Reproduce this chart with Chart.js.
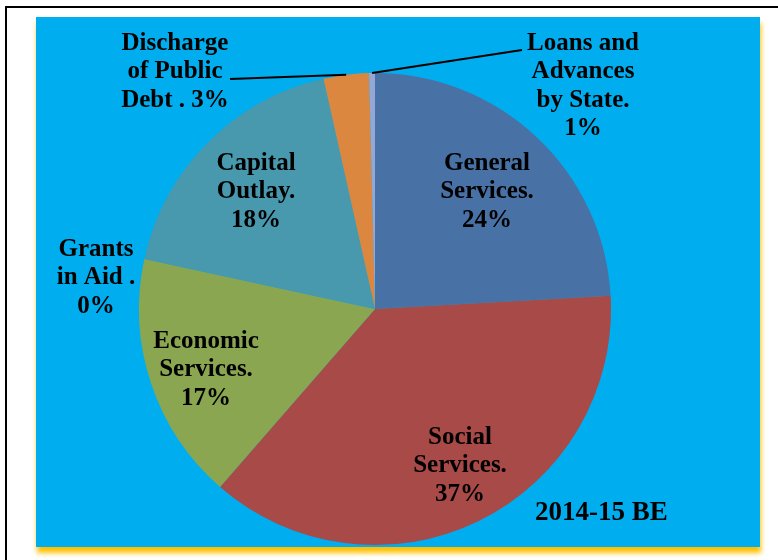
<!DOCTYPE html>
<html>
<head>
<meta charset="utf-8">
<script src="https://cdn.jsdelivr.net/npm/chart.js@4.4.1/dist/chart.umd.min.js"></script>
<style>
  html, body { margin: 0; padding: 0; background: #ffffff; }
  #wrap { position: relative; width: 778px; height: 560px; }
</style>
</head>
<body>
<div id="wrap"><canvas id="c" width="778" height="560"></canvas></div>
<script>
// ---- data ----
const categories = ['General Services.', 'Social Services.', 'Economic Services.', 'Grants in Aid .',
                    'Capital Outlay.', 'Discharge of Public Debt .', 'Loans and Advances by State.'];
const shares = [24.1, 37.3, 17.0, 0.0, 18.1, 3.1, 0.4];
const labelLines = [
  ['General', 'Services.', '24%'],
  ['Social', 'Services.', '37%'],
  ['Economic', 'Services.', '17%'],
  ['Grants', 'in Aid .', '0%'],
  ['Capital', 'Outlay.', '18%'],
  ['Discharge', 'of Public', 'Debt . 3%'],
  ['Loans and', 'Advances', 'by State.', '1%']
];
const chartTitle = '2014-15 BE';

// ---- styling / layout (kept separate from data) ----
const sliceColors = ['#4872A6', '#A84A47', '#8BA651', '#7F6B9E', '#4898AE', '#DC873F', '#94A8D6'];
const labelAnchors = [
  {x: 487, y: 192}, {x: 460, y: 466}, {x: 206, y: 370}, {x: 96, y: 278},
  {x: 256, y: 192}, {x: 175, y: 72}, {x: 583, y: 86}
];
const leaderEnds = {5: {x: 230, y: 79}, 6: {x: 522, y: 50}};
const LINE_H = 28.5;
const LABEL_FONT = 'bold 25px "Liberation Serif", "Times New Roman", serif';
const TITLE_FONT = 'bold 27px "Liberation Serif", "Times New Roman", serif';

const backgroundPlugin = {
  id: 'bg',
  beforeDraw(chart) {
    const ctx = chart.ctx;
    ctx.save();
    ctx.fillStyle = '#ffffff';
    ctx.fillRect(0, 0, chart.width, chart.height);
    // outer frame
    ctx.strokeStyle = '#000000';
    ctx.lineWidth = 2;
    ctx.strokeRect(6, 7, 820, 620);
    // panel with yellow glow
    ctx.shadowColor = 'rgba(255,192,0,1)';
    ctx.shadowBlur = 5;
    ctx.shadowOffsetX = 1;
    ctx.shadowOffsetY = 6;
    ctx.fillStyle = '#00AEEF';
    ctx.fillRect(36, 17, 724, 530);
    ctx.restore();
  }
};

const labelPlugin = {
  id: 'labels',
  afterDatasetsDraw(chart) {
    const ctx = chart.ctx;
    const meta = chart.getDatasetMeta(0);
    ctx.save();
    // leader lines from the slice edge
    Object.keys(leaderEnds).forEach(k => {
      const arc = meta.data[+k];
      const p = arc.getProps(['x', 'y', 'startAngle', 'endAngle', 'outerRadius'], true);
      const mid = (p.startAngle + p.endAngle) / 2;
      const ax = p.x + Math.cos(mid) * p.outerRadius;
      const ay = p.y + Math.sin(mid) * p.outerRadius;
      ctx.strokeStyle = '#000000';
      ctx.lineWidth = 2.2;
      ctx.beginPath();
      ctx.moveTo(ax, ay);
      ctx.lineTo(leaderEnds[k].x, leaderEnds[k].y);
      ctx.stroke();
    });
    ctx.fillStyle = '#000000';
    ctx.font = LABEL_FONT;
    ctx.textAlign = 'center';
    ctx.textBaseline = 'middle';
    labelLines.forEach((lines, i) => {
      const a = labelAnchors[i];
      const n = lines.length;
      lines.forEach((t, j) => {
        ctx.fillText(t, a.x, a.y + (j - (n - 1) / 2) * LINE_H);
      });
    });
    ctx.font = TITLE_FONT;
    ctx.textAlign = 'left';
    ctx.textBaseline = 'alphabetic';
    ctx.fillText(chartTitle, 535, 520);
    ctx.restore();
  }
};

new Chart(document.getElementById('c'), {
  type: 'pie',
  data: {
    labels: categories,
    datasets: [{
      data: shares,
      backgroundColor: sliceColors,
      borderWidth: 0,
      hoverOffset: 0
    }]
  },
  options: {
    responsive: false,
    animation: false,
    layout: { padding: { left: 139, top: 73, right: 167, bottom: 15 } },
    plugins: { legend: { display: false }, tooltip: { enabled: false } },
    events: []
  },
  plugins: [backgroundPlugin, labelPlugin]
});
</script>
</body>
</html>
